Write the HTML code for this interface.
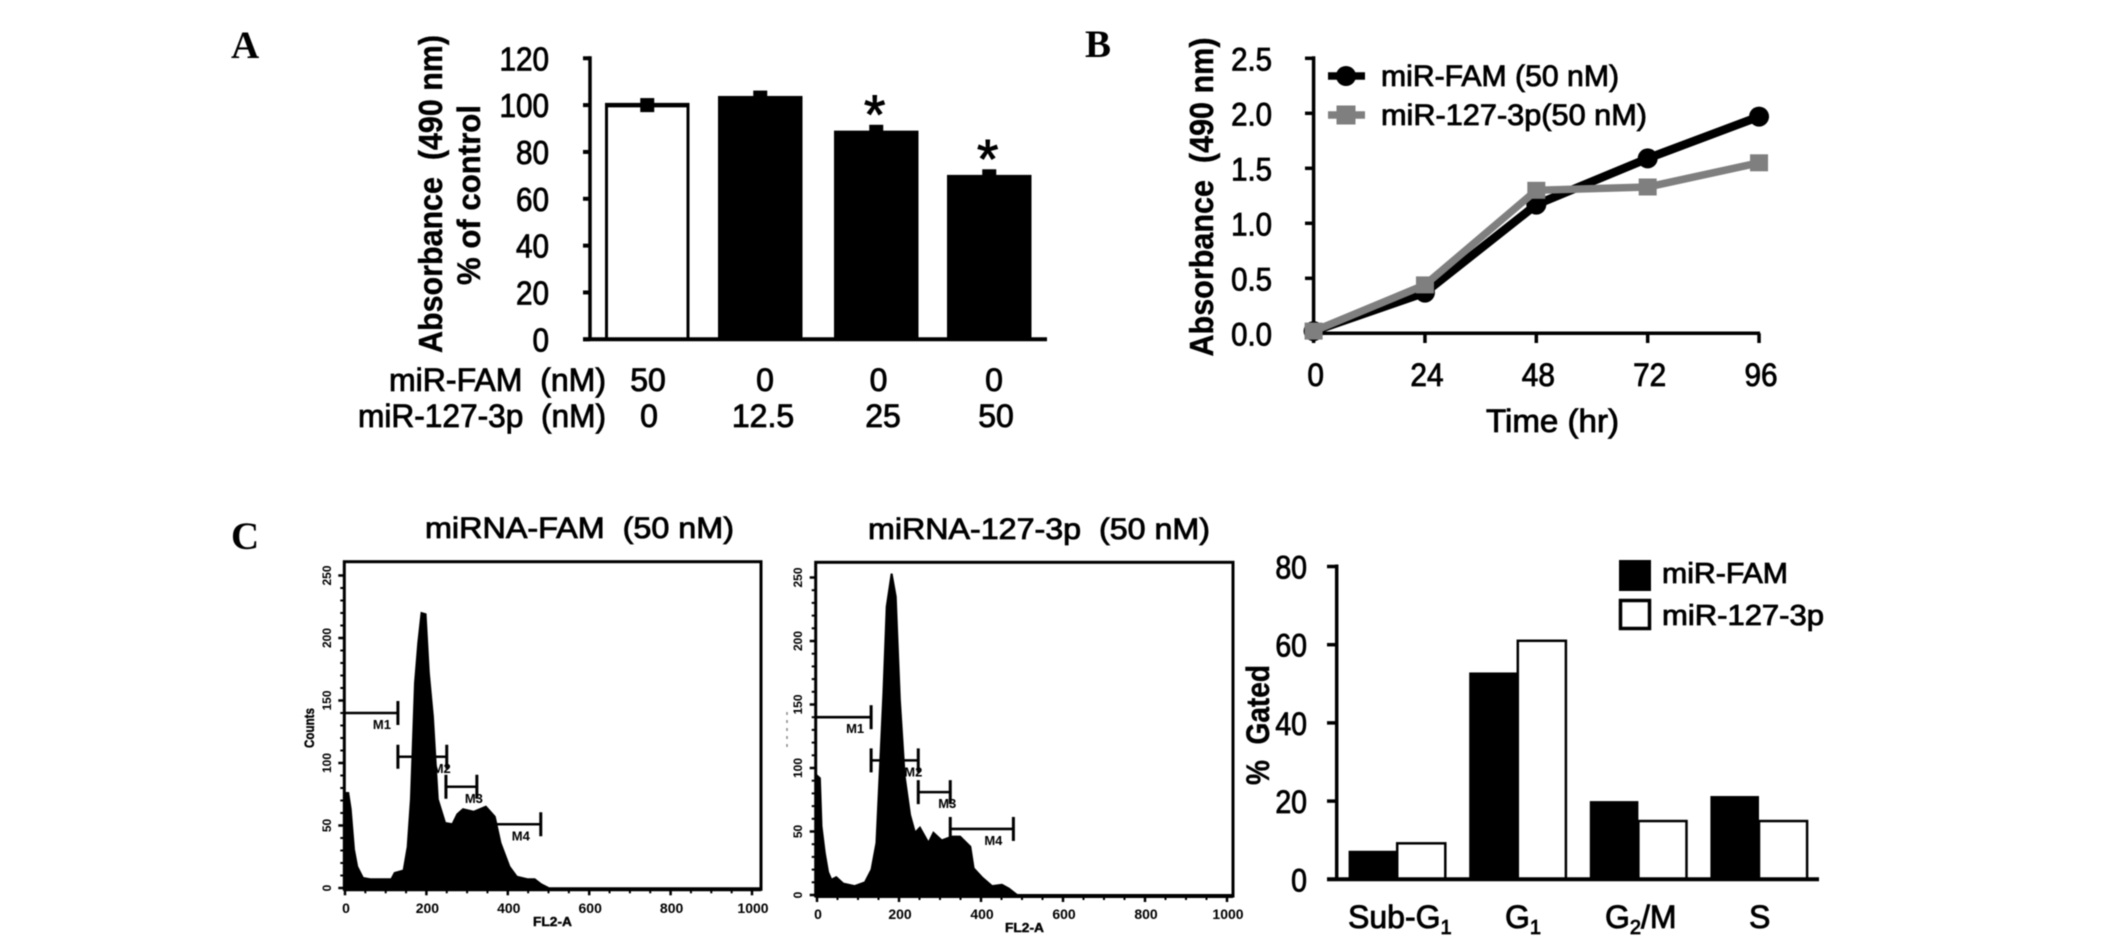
<!DOCTYPE html>
<html lang="en">
<head>
<meta charset="utf-8">
<title>miR-127-3p proliferation and cell cycle figure</title>
<style>
html,body{margin:0;padding:0;background:#fff;width:2126px;height:939px;overflow:hidden}
svg{display:block;filter:blur(.45px)}
text{font-family:"Liberation Sans",Arial,sans-serif;fill:#000}
.heavy{stroke:#000;stroke-width:.85px}
.serif{font-family:"Liberation Serif",serif;font-weight:bold;font-size:39px}
.bold{font-weight:bold;stroke:#000;stroke-width:.4px}
</style>
</head>
<body>
<svg id="figure" xmlns="http://www.w3.org/2000/svg" width="2126" height="939" viewBox="0 0 2126 939">
  <rect x="0" y="0" width="2126" height="939" fill="#fff"/>
  <text class="serif" x="231" y="58">A</text>
  <text class="serif" x="1085" y="57">B</text>
  <text class="serif" x="231" y="549">C</text>

  <g id="panelA">
    <text class="bold" font-size="33" textLength="318" lengthAdjust="spacingAndGlyphs" text-anchor="middle" transform="translate(442,194) rotate(-90)">Absorbance&#160; (490 nm)</text>
    <text class="bold" font-size="32" textLength="180" lengthAdjust="spacingAndGlyphs" text-anchor="middle" transform="translate(480,195) rotate(-90)">% of control</text>
    <text class="heavy" font-size="32" x="389" y="391" textLength="217" lengthAdjust="spacingAndGlyphs">miR-FAM&#160; (nM)</text>
    <text class="heavy" font-size="32" x="358" y="427" textLength="248" lengthAdjust="spacingAndGlyphs">miR-127-3p&#160; (nM)</text>
  </g>

  <g id="panelB">
    <text class="bold" font-size="33" textLength="319" lengthAdjust="spacingAndGlyphs" text-anchor="middle" transform="translate(1213,197) rotate(-90)">Absorbance&#160; (490 nm)</text>
    <text class="heavy" font-size="32" x="1486" y="432" textLength="133" lengthAdjust="spacingAndGlyphs">Time (hr)</text>
    <text class="heavy" font-size="30" x="1381" y="86" textLength="238" lengthAdjust="spacingAndGlyphs">miR-FAM (50 nM)</text>
    <text class="heavy" font-size="30" x="1381" y="125" textLength="266" lengthAdjust="spacingAndGlyphs">miR-127-3p(50 nM)</text>
  </g>

  <g id="panelC1">
    <text class="heavy" font-size="30" x="425" y="538" textLength="309" lengthAdjust="spacingAndGlyphs">miRNA-FAM&#160; (50 nM)</text>
    <text class="bold" font-size="14" textLength="40" lengthAdjust="spacingAndGlyphs" text-anchor="middle" transform="translate(314,728) rotate(-90)">Counts</text>
    <text class="bold" font-size="13" x="533" y="926" textLength="39" lengthAdjust="spacingAndGlyphs">FL2-A</text>
  </g>

  <g id="panelC2">
    <text class="heavy" font-size="30" x="868" y="539" textLength="342" lengthAdjust="spacingAndGlyphs">miRNA-127-3p&#160; (50 nM)</text>
    <line x1="787" y1="712" x2="787" y2="750" stroke="#888" stroke-width="1.5" stroke-dasharray="3 5"/>
    <text class="bold" font-size="13" x="1005" y="932" textLength="39" lengthAdjust="spacingAndGlyphs">FL2-A</text>
  </g>

  <g id="panelC3">
    <text class="bold" font-size="32" textLength="120" lengthAdjust="spacingAndGlyphs" text-anchor="middle" transform="translate(1269,725) rotate(-90)">%&#160; Gated</text>
    <rect x="1619" y="560" width="32" height="31" fill="#000"/>
    <rect x="1620.5" y="600.5" width="29" height="28" fill="#fff" stroke="#000" stroke-width="3.5"/>
    <text class="heavy" font-size="29" x="1662" y="583" textLength="126" lengthAdjust="spacingAndGlyphs">miR-FAM</text>
    <text class="heavy" font-size="29" x="1662" y="625" textLength="162" lengthAdjust="spacingAndGlyphs">miR-127-3p</text>
    <text class="heavy" font-size="32" x="1348" y="928">Sub-G<tspan font-size="20" dy="6">1</tspan></text>
    <text class="heavy" font-size="32" x="1505" y="928">G<tspan font-size="20" dy="6">1</tspan></text>
    <text class="heavy" font-size="32" x="1605" y="928">G<tspan font-size="20" dy="6">2</tspan><tspan dy="-6">/M</tspan></text>
    <text class="heavy" font-size="32" x="1749" y="928">S</text>
  </g>
</svg>

<script>
// Panel A data
const aTicks = [0, 20, 40, 60, 80, 100, 120];
const aValues = [100, 103.9, 89.1, 70.2];
const aErrors = [3, 2.3, 2.5, 2.4];
const aSignificant = [false, false, true, true];
const aFamLabels = ['50', '0', '0', '0'];
const aMirLabels = ['0', '12.5', '25', '50'];

// Panel B data
const bYTicks = [0, 0.5, 1, 1.5, 2, 2.5];
const bHours = [0, 24, 48, 72, 96];
const bFam = [0.02, 0.37, 1.17, 1.59, 1.97];
const bMir = [0.02, 0.44, 1.30, 1.33, 1.55];

// Panel C histogram data
const h1Channels = [0, 8, 14, 22, 30, 44, 62, 114, 122, 144, 154, 162, 172, 180, 188, 198, 206, 216, 228, 246, 264, 276, 290, 316, 346, 368, 382, 404, 422, 448, 466, 482, 500];
const h1Counts = [76, 76, 63, 31, 17, 8, 7, 7, 12, 14, 33, 71, 164, 196, 220, 219, 172, 137, 71, 52, 51, 59, 63, 61, 65, 57, 36, 17, 9, 7, 7, 3, 0];
const h2Channels = [0, 7, 11, 19, 27, 35, 47, 64, 92, 117, 133, 145, 162, 170, 182, 192, 202, 214, 227, 239, 251, 272, 284, 304, 329, 349, 374, 382, 402, 427, 451, 468, 488];
const h2Counts = [94, 92, 54, 33, 18, 12, 14, 9, 7, 10, 20, 41, 159, 227, 253, 235, 154, 93, 63, 49, 53, 41, 49, 43, 46, 46, 38, 21, 14, 7, 8, 5, 0];
const histXTicks = [0, 200, 400, 600, 800, 1000];
const histYTicks = [0, 50, 100, 150, 200, 250];
const gateNames = ['M1', 'M2', 'M3', 'M4'];
const h1GateStart = [0, 130, 248, 324];
const h1GateEnd = [130, 250, 324, 481];
const h1GateLevel = [140, 105, 81, 51];
const h2GateStart = [0, 132, 247, 325];
const h2GateEnd = [132, 247, 325, 479];
const h2GateLevel = [140, 106, 81, 52];

// Panel C bar data
const cTicks = [0, 20, 40, 60, 80];
const cFam = [7.3, 52.9, 20, 21.3];
const cMir = [9.2, 61, 14.9, 14.9];

const NS = 'http://www.w3.org/2000/svg';
function make(tag, attrs, parent, content) {
  const node = document.createElementNS(NS, tag);
  for (const k in attrs) node.setAttribute(k, attrs[k]);
  if (content !== undefined) node.textContent = content;
  parent.appendChild(node);
  return node;
}
function narrow(parent, x, y, str, size, sx, anchor) {
  return make('text', {
    transform: 'translate(' + x + ',' + y + ') scale(' + sx + ',1)',
    'font-size': size,
    'text-anchor': anchor,
    class: 'heavy'
  }, parent, str);
}

/* ---------- Panel A ---------- */
(function () {
  const g = document.getElementById('panelA');
  const y = v => 339.3 - v * 2.342;
  const barLeft = i => [605, 718, 834, 947][i];
  const barW = 84.5;
  aTicks.forEach(function (t) {
    const tick = make('line', {x1: 583, x2: 590, y1: y(t), y2: y(t), stroke: '#000', 'stroke-width': 4}, g);
    
    
    const lab = narrow(g, 549, y(t) + 12, String(t), 33, 0.9, 'end');
    
    
  });
  aValues.forEach(function (v, i) {
    const cx = barLeft(i) + barW / 2;
    const err = make('rect', {x: cx - 7, y: y(v + aErrors[i]), width: 14, height: y(v - aErrors[i]) - y(v + aErrors[i]), fill: '#000'}, g);
    
    
    const white = i === 0;
    const bar = make('rect', {
      x: barLeft(i) + (white ? 1.5 : 0), y: y(v), width: barW - (white ? 3 : 0), height: y(0) - y(v),
      fill: white ? 'none' : '#000', stroke: white ? '#000' : 'none', 'stroke-width': 3
    }, g);
    
    
    if (white) {
      const topLine = make('line', {x1: barLeft(i), x2: barLeft(i) + barW, y1: y(v), y2: y(v), stroke: '#000', 'stroke-width': 4.5}, g);
      
      
    }
    if (aSignificant[i]) {
      const star = make('text', {x: cx - 1.5, y: y(v + aErrors[i]) + 8, 'font-size': 55, 'text-anchor': 'middle', stroke: '#000', 'stroke-width': 1}, g, '*');
      
      
    }
    const fam = make('text', {x: [648, 765, 878.5, 994][i], y: 391, 'font-size': 32, 'text-anchor': 'middle', class: 'heavy', transform: ''}, g, aFamLabels[i]);
    
    
    const mir = make('text', {x: [649, 763, 883, 996][i], y: 427, 'font-size': 32, 'text-anchor': 'middle', class: 'heavy', transform: ''}, g, aMirLabels[i]);
    
    
  });
  const yAxis = make('line', {x1: 590, x2: 590, y1: y(120) - 2, y2: y(0), stroke: '#000', 'stroke-width': 3.5}, g);
  
  
  const xAxis = make('line', {x1: 583, x2: 1047, y1: y(0), y2: y(0), stroke: '#000', 'stroke-width': 4}, g);
  
  
})();

/* ---------- Panel B ---------- */
(function () {
  const g = document.getElementById('panelB');
  const x = h => 1313.6 + h * 4.64;
  const y = v => 333.3 - v * 110;
  const yAxis = make('line', {x1: 1313.6, x2: 1313.6, y1: y(2.5) - 2, y2: y(0), stroke: '#000', 'stroke-width': 3.5}, g);
  
  
  const xAxis = make('line', {x1: 1305, x2: x(96) + 1, y1: y(0), y2: y(0), stroke: '#000', 'stroke-width': 3.5}, g);
  
  
  bYTicks.forEach(function (t) {
    const tick = make('line', {x1: 1305, x2: 1313, y1: y(t), y2: y(t), stroke: '#000', 'stroke-width': 3.5}, g);
    
    
    const lab = narrow(g, 1272, y(t) + 12, t.toFixed(1), 32, 0.92, 'end');
    
    
  });
  bHours.forEach(function (h) {
    const tick = make('line', {x1: x(h), x2: x(h), y1: y(0), y2: 343, stroke: '#000', 'stroke-width': 3.5}, g);
    
    
    const lab = narrow(g, x(h) + 2, 386, String(h), 32, 0.93, 'middle');
    
    
  });
  const points = s => s.map((v, i) => x(bHours[i]) + ',' + y(v)).join(' ');
  const famLine = make('polyline', {points: points(bFam), fill: 'none', stroke: '#000', 'stroke-width': 8.5}, g);
  
  
  bFam.forEach(function (v, i) {
    const c = make('circle', {cx: x(bHours[i]), cy: y(v), r: 10, fill: '#000'}, g);
    
    
  });
  const mirLine = make('polyline', {points: points(bMir), fill: 'none', stroke: '#7f7f7f', 'stroke-width': 7.5}, g);
  
  
  bMir.forEach(function (v, i) {
    const s = make('rect', {x: x(bHours[i]) - 9, y: y(v) - 8.5, width: 18, height: 17, fill: '#7f7f7f'}, g);
    
    
  });
  const l1 = make('line', {x1: 1328, x2: 1365, y1: 76, y2: 76, stroke: '#000', 'stroke-width': 7.5}, g);
  
  
  const m1 = make('circle', {cx: 1346, cy: 76, r: 10, fill: '#000'}, g);
  
  
  const l2 = make('line', {x1: 1328, x2: 1365, y1: 115, y2: 115, stroke: '#7f7f7f', 'stroke-width': 7.5}, g);
  
  
  const m2 = make('rect', {x: 1336.5, y: 105.5, width: 19, height: 19, fill: '#7f7f7f'}, g);
  
  
})();

/* ---------- Histograms ---------- */
function drawHistogram(g, o) {
  const x = c => o.x0 + c * o.xs;
  const y = c => o.y0 - c * o.ys;
  const frame = make('rect', {x: o.left, y: o.top, width: o.right - o.left, height: o.bottom - o.top, fill: 'none', stroke: '#000', 'stroke-width': 3}, g);
  
  
  const base = make('line', {x1: o.left, x2: o.right, y1: o.bottom, y2: o.bottom, stroke: '#000', 'stroke-width': 4}, g);
  
  
  for (let c = 0; c <= 250; c += 10) {
    const major = c % 50 === 0;
    const t = make('line', {x1: o.left - (major ? 6 : 4), x2: o.left, y1: y(c), y2: y(c), stroke: '#000', 'stroke-width': major ? 2.5 : 2}, g);
    
    
  }
  for (let c = 0; c <= 1000; c += 50) {
    const major = c % 200 === 0;
    const t = make('line', {x1: x(c), x2: x(c), y1: o.bottom, y2: o.bottom + (major ? 6 : 4), stroke: '#000', 'stroke-width': major ? 2.5 : 2}, g);
    
    
  }
  histXTicks.forEach(function (c) {
    const lab = make('text', {x: x(c) + 1, y: o.xLabelY, 'font-size': 14, 'font-weight': 'bold', 'text-anchor': 'middle', fill: '#222'}, g, String(c));
    
    
  });
  histYTicks.forEach(function (c) {
    const lab = make('text', {transform: 'translate(' + o.yLabelX + ',' + y(c) + ') rotate(-90)', 'font-size': 12, 'font-weight': 'bold', 'text-anchor': 'middle', fill: '#222'}, g, String(c));
    
    
  });
  const inset = [16, 5, 3, 20];
  gateNames.forEach(function (name, i) {
    const a = x(o.gateStart[i]), b = x(o.gateEnd[i]), ly = y(o.gateLevel[i]);
    const line = make('line', {x1: a, x2: b, y1: ly, y2: ly, stroke: '#000', 'stroke-width': 2.6}, g);
    
    
    if (i > 0) {
      const capA = make('line', {x1: a, x2: a, y1: ly - 12, y2: ly + 12, stroke: '#000', 'stroke-width': 3}, g);
      
      
    }
    const capB = make('line', {x1: b, x2: b, y1: ly - 12, y2: ly + 12, stroke: '#000', 'stroke-width': 3}, g);
    
    
    const lab = make('text', {x: b - inset[i], y: ly + 16, 'font-size': 13, 'font-weight': 'bold', 'text-anchor': 'middle', fill: '#222'}, g, name);
    
    
  });
  let d = 'M' + x(o.channels[0]) + ' ' + y(0);
  o.channels.forEach(function (c, i) { d += ' L' + x(c) + ' ' + y(o.counts[i]); });
  d += ' L' + x(o.channels[o.channels.length - 1]) + ' ' + y(0) + ' Z';
  const area = make('path', {d: d, fill: '#000', stroke: '#000', 'stroke-width': 2}, g);
  
  
}
drawHistogram(document.getElementById('panelC1'), {
  left: 344.3, right: 761, top: 561.7, bottom: 889.3, x0: 345, xs: 0.407, y0: 888, ys: 1.25,
  xLabelY: 913, yLabelX: 331, channels: h1Channels, counts: h1Counts,
  gateStart: h1GateStart, gateEnd: h1GateEnd, gateLevel: h1GateLevel
});
drawHistogram(document.getElementById('panelC2'), {
  left: 815.7, right: 1233, top: 562.3, bottom: 896, x0: 817, xs: 0.41, y0: 895, ys: 1.27,
  xLabelY: 919, yLabelX: 802, channels: h2Channels, counts: h2Counts,
  gateStart: h2GateStart, gateEnd: h2GateEnd, gateLevel: h2GateLevel
});

/* ---------- Panel C bars ---------- */
(function () {
  const g = document.getElementById('panelC3');
  const y = v => 879.3 - v * 3.91;
  const groupX = i => 1348.6 + i * 120.6;
  const w = 48.6;
  cFam.forEach(function (v, i) {
    const b = make('rect', {x: groupX(i), y: y(v), width: w, height: y(0) - y(v), fill: '#000'}, g);
    
    
  });
  cMir.forEach(function (v, i) {
    const b = make('rect', {x: groupX(i) + w, y: y(v), width: w - 0.5, height: y(0) - y(v), fill: '#fff', stroke: '#000', 'stroke-width': 2.5}, g);
    
    
  });
  cTicks.forEach(function (t) {
    const tick = make('line', {x1: 1327, x2: 1337, y1: y(t), y2: y(t), stroke: '#000', 'stroke-width': 3.5}, g);
    
    
    const lab = narrow(g, 1307, y(t) + 12, String(t), 32, 0.89, 'end');
    
    
  });
  const yAxis = make('line', {x1: 1336.7, x2: 1336.7, y1: y(80) - 2, y2: y(0), stroke: '#000', 'stroke-width': 3.5}, g);
  
  
  const xAxis = make('line', {x1: 1327, x2: 1819, y1: y(0), y2: y(0), stroke: '#000', 'stroke-width': 4}, g);
  
  
})();
</script>
</body>
</html>
